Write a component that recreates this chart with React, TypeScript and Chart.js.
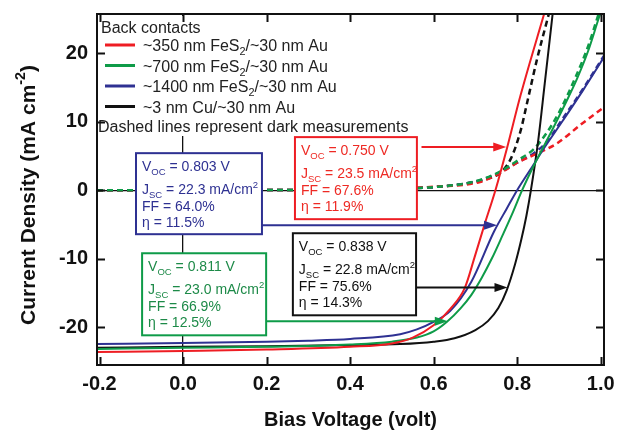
import React, { useEffect, useRef } from "react";
import { Chart, registerables } from "chart.js";

Chart.register(...registerables);

const FAMILY = 'Arial, "Liberation Sans", Helvetica, sans-serif';

// ---- axis ticks ----
const xTicks = [-0.2, 0.0, 0.2, 0.4, 0.6, 0.8, 1.0];
const yTicks = [-20, -10, 0, 10, 20];

// ---- illuminated J-V curves [V (volt), J (mA cm^-2)] ----
const red350Light = [
  [-0.206, -23.6], [0, -23.45], [0.2, -23.25], [0.4, -22.85], [0.5, -22.35], [0.55, -21.5],
  [0.6, -19.7], [0.64, -17.3], [0.675, -14.2], [0.698, -9.8], [0.722, -5.0], [0.748, 0],
  [0.776, 6.2], [0.808, 13.8], [0.866, 26.0],
];
const green700Light = [
  [-0.206, -23.15], [0, -23.0], [0.2, -22.85], [0.4, -22.5], [0.5, -22.1], [0.56, -21.5],
  [0.6, -20.6], [0.632, -19.2], [0.665, -17.2], [0.69, -15.3], [0.715, -12.8], [0.74, -9.9],
  [0.765, -6.6], [0.79, -3.2], [0.812, 0], [0.84, 3.6], [0.88, 8.3], [0.912, 12.2],
  [0.943, 16.2], [0.97, 20.3], [0.995, 25.0], [1.0, 25.9],
];
const blue1400Light = [
  [-0.206, -22.45], [0, -22.3], [0.2, -22.1], [0.3, -21.95], [0.4, -21.7], [0.52, -21.0],
  [0.56, -20.3], [0.6, -19.2], [0.64, -17.6], [0.69, -13.4], [0.745, -6.0], [0.775, -2.7],
  [0.8, 0], [0.838, 3.6], [0.862, 5.9], [0.91, 10.2], [0.958, 14.6], [1.01, 19.6],
];
const blackCuLight = [
  [-0.206, -23.0], [0, -22.85], [0.2, -22.75], [0.4, -22.6], [0.52, -22.45], [0.6, -22.1],
  [0.65, -21.6], [0.7, -20.4], [0.73, -19.1], [0.755, -17.2], [0.775, -14.6], [0.795, -10.8],
  [0.81, -7.2], [0.822, -3.8], [0.833, 0], [0.85, 7.0], [0.866, 15.5], [0.885, 25.7],
];

// ---- dark J-V curves ----
const red350Dark = [
  [-0.206, 0], [0.3, 0.05], [0.5, 0.2], [0.6, 0.5], [0.711, 1.2], [0.759, 2.5], [0.8, 4.0],
  [0.85, 5.4], [0.895, 6.8], [0.951, 9.5], [1.01, 12.2],
];
const green700Dark = [
  [-0.206, 0], [0.3, 0.05], [0.5, 0.2], [0.6, 0.45], [0.7, 1.3], [0.759, 2.7], [0.8, 4.3],
  [0.84, 6.0], [0.87, 8.3], [0.9, 11.3], [0.94, 16.5], [0.97, 21.0], [0.995, 25.7],
];
const blue1400Dark = [
  [-0.206, 0], [0.3, 0.05], [0.5, 0.2], [0.6, 0.45], [0.7, 1.25], [0.759, 2.6], [0.8, 4.0],
  [0.84, 5.4], [0.87, 7.0], [0.91, 10.5], [0.958, 14.8], [1.01, 19.8],
];
const blackCuDark = [
  [-0.206, 0], [0.3, 0.05], [0.5, 0.2], [0.6, 0.45], [0.68, 1.0], [0.73, 1.7], [0.759, 2.5],
  [0.785, 4.6], [0.808, 8.6], [0.827, 13.6], [0.848, 19.2], [0.872, 24.8], [0.878, 26.2],
];

// ---- device parameters (order: red, green, blue, black) ----
const legendNames = ["~350 nm FeS", "~700 nm FeS", "~1400 nm FeS", "~3 nm Cu/~30 nm Au"];
const vocValues = ["0.750", "0.811", "0.803", "0.838"];
const jscValues = ["23.5", "23.0", "22.3", "22.8"];
const ffValues = ["67.6", "66.9", "64.0", "75.6"];
const etaValues = ["11.9", "12.5", "11.5", "14.3"];

const LINE_COLORS = ["#ee1d23", "#0e9b48", "#2e3192", "#111111"];
const TEXT_COLORS = ["#ee2a24", "#1d8a48", "#2e3192", "#111111"];

type Seg = { t: string; s?: "sub" | "sup" };

function drawRich(ctx: CanvasRenderingContext2D, segs: Seg[], x: number, baseline: number, size: number, color: string, weight = "normal", measureOnly = false) {
  ctx.fillStyle = color;
  ctx.textBaseline = "alphabetic";
  ctx.textAlign = "left";
  let cx = x;
  for (const s of segs) {
    const fs = s.s ? size * 0.68 : size;
    ctx.font = `${weight} ${fs}px ${FAMILY}`;
    const dy = s.s === "sub" ? size * 0.28 : s.s === "sup" ? -size * 0.45 : 0;
    if (!measureOnly) ctx.fillText(s.t, cx, baseline + dy);
    cx += ctx.measureText(s.t).width;
  }
  return cx - x;
}

function legendSegs(i: number): Seg[] {
  if (i === 3) return [{ t: legendNames[3] }];
  return [{ t: legendNames[i] }, { t: "2", s: "sub" }, { t: "/~30 nm Au" }];
}

// annotation boxes in data units: [left V, top J, right V, bottom J], order red, green, blue, black
const boxRects = [
  [0.268, 7.74, 0.560, -4.23],
  [-0.098, -9.2, 0.199, -21.17],
  [-0.1126, 5.4, 0.189, -6.42],
  [0.263, -6.28, 0.558, -18.25],
];
// arrows in data units: [fromV, toV, J]
const arrows = [
  [0.571, 0.774, 6.3],
  [0.2, 0.634, -19.1],
  [0.189, 0.752, -5.1],
  [0.56, 0.777, -14.2],
];

const overlayPlugin = {
  id: "overlay",
  afterDatasetsDraw(chart: any) {
    const { ctx, chartArea: ca, scales } = chart;
    const xs = scales.x, ys = scales.y;
    ctx.save();
    // boxes
    for (let i = 0; i < 4; i++) {
      const [l, t, r, b] = boxRects[i];
      const x0 = xs.getPixelForValue(l), x1 = xs.getPixelForValue(r);
      const y0 = ys.getPixelForValue(t), y1 = ys.getPixelForValue(b);
      ctx.fillStyle = "#ffffff";
      ctx.fillRect(x0, y0, x1 - x0, y1 - y0);
      ctx.strokeStyle = LINE_COLORS[i];
      ctx.lineWidth = 2;
      ctx.strokeRect(x0, y0, x1 - x0, y1 - y0);
      const tx = x0 + 6;
      const col = TEXT_COLORS[i];
      drawRich(ctx, [{ t: "V" }, { t: "OC", s: "sub" }, { t: ` = ${vocValues[i]} V` }], tx, y0 + 18, 14, col);
      drawRich(ctx, [{ t: "J" }, { t: "SC", s: "sub" }, { t: ` = ${jscValues[i]} mA/cm` }, { t: "2", s: "sup" }], tx, y0 + 41, 14, col);
      drawRich(ctx, [{ t: `FF = ${ffValues[i]}%` }], tx, y0 + 58, 14, col);
      drawRich(ctx, [{ t: `\u03b7 = ${etaValues[i]}%` }], tx, y0 + 74, 14, col);
    }
    // arrows
    for (let i = 0; i < 4; i++) {
      const [fv, tv, j] = arrows[i];
      const ax0 = xs.getPixelForValue(fv), ax1 = xs.getPixelForValue(tv), ay = ys.getPixelForValue(j);
      ctx.strokeStyle = LINE_COLORS[i];
      ctx.fillStyle = LINE_COLORS[i];
      ctx.lineWidth = 2;
      ctx.beginPath();
      ctx.moveTo(ax0, ay);
      ctx.lineTo(ax1 - 10, ay);
      ctx.stroke();
      ctx.beginPath();
      ctx.moveTo(ax1, ay);
      ctx.lineTo(ax1 - 13, ay - 4.5);
      ctx.lineTo(ax1 - 13, ay + 4.5);
      ctx.closePath();
      ctx.fill();
    }
    // legend
    const L = ca.left, T = ca.top;
    ctx.fillStyle = "#ffffff";
    ctx.fillRect(L + 2, T + 2, 322, 120);
    drawRich(ctx, [{ t: "Back contacts" }], L + 4, T + 19, 16, "#222");
    const rowY = [31, 51.5, 72, 92.5];
    for (let i = 0; i < 4; i++) {
      const cy = T + rowY[i];
      ctx.strokeStyle = LINE_COLORS[i];
      ctx.lineWidth = 3;
      ctx.beginPath();
      ctx.moveTo(L + 8, cy);
      ctx.lineTo(L + 38, cy);
      ctx.stroke();
      drawRich(ctx, legendSegs(i), L + 46, cy + 6, 16, "#222");
    }
    drawRich(ctx, [{ t: "Dashed lines represent dark measurements" }], L + 1, T + 118, 16, "#222");
    ctx.restore();
  },
  afterDraw(chart: any) {
    const { ctx, chartArea: ca, scales } = chart;
    const xs = scales.x, ys = scales.y;
    ctx.save();
    ctx.strokeStyle = "#111";
    ctx.lineWidth = 2;
    ctx.strokeRect(ca.left, ca.top, ca.right - ca.left, ca.bottom - ca.top);
    const tl = 8;
    ctx.beginPath();
    for (const v of xTicks) {
      const px = Math.round(xs.getPixelForValue(v)) + 0.5;
      ctx.moveTo(px, ca.bottom); ctx.lineTo(px, ca.bottom - tl);
      ctx.moveTo(px, ca.top); ctx.lineTo(px, ca.top + tl);
    }
    for (const v of yTicks) {
      const py = Math.round(ys.getPixelForValue(v)) + 0.5;
      ctx.moveTo(ca.left, py); ctx.lineTo(ca.left + tl, py);
      ctx.moveTo(ca.right, py); ctx.lineTo(ca.right - tl, py);
    }
    ctx.stroke();
    // axis titles
    const xt: Seg[] = [{ t: "Bias Voltage (volt)" }];
    const xw = drawRich(ctx, xt, 0, 0, 20, "#111", "bold", true);
    drawRich(ctx, xt, (ca.left + ca.right) / 2 - xw / 2, 426, 20, "#111", "bold");
    const yt: Seg[] = [{ t: "Current Density (mA cm" }, { t: "-2", s: "sup" }, { t: ")" }];
    const yw = drawRich(ctx, yt, 0, 0, 21, "#111", "bold", true);
    ctx.translate(27, 195);
    ctx.rotate(-Math.PI / 2);
    drawRich(ctx, yt, -yw / 2, 7.5, 21, "#111", "bold");
    ctx.restore();
  },
};

function toPts(a: number[][]) {
  return a.map(([x, y]) => ({ x, y }));
}

export default function App() {
  const ref = useRef<HTMLCanvasElement>(null);
  useEffect(() => {
    if (!ref.current) return;
    const light = [red350Light, green700Light, blue1400Light, blackCuLight];
    const dark = [red350Dark, green700Dark, blue1400Dark, blackCuDark];
    const datasets: any[] = [];
    for (let i = 0; i < 4; i++) {
      datasets.push({
        data: toPts(light[i]),
        borderColor: LINE_COLORS[i],
        borderWidth: 2,
        pointRadius: 0,
        cubicInterpolationMode: "monotone",
        fill: false,
        order: 1,
      });
    }
    const darkOrder = [3, 2, 4, 5];
    for (let i = 0; i < 4; i++) {
      datasets.push({
        data: toPts(dark[i]),
        borderColor: LINE_COLORS[i],
        borderWidth: 2.5,
        borderDash: [6, 4],
        pointRadius: 0,
        cubicInterpolationMode: "monotone",
        fill: false,
        order: darkOrder[i],
      });
    }
    const tickFont = { family: FAMILY, size: 20, weight: "bold" as const };
    const chart = new Chart(ref.current, {
      type: "line",
      data: { datasets },
      plugins: [overlayPlugin],
      options: {
        animation: false,
        responsive: false,
        devicePixelRatio: 1,
        layout: { padding: { top: 14, right: 13, left: 0, bottom: 0 } },
        plugins: { legend: { display: false }, tooltip: { enabled: false }, title: { display: false } },
        scales: {
          x: {
            type: "linear",
            min: -0.206,
            max: 1.008,
            afterBuildTicks: (s: any) => { s.ticks = xTicks.map((v) => ({ value: v })); },
            afterFit: (s: any) => { s.height = 68; s.paddingLeft = 0; s.paddingRight = 0; },
            ticks: { font: tickFont, color: "#111", padding: 7, maxRotation: 0, autoSkip: false, callback: (v: any) => Number(v).toFixed(1) },
            grid: { drawTicks: false, lineWidth: 1.3, color: (c: any) => (c.tick && Math.abs(c.tick.value) < 1e-9 ? "#111" : "rgba(0,0,0,0)") },
            border: { display: false },
          },
          y: {
            type: "linear",
            min: -25.5,
            max: 25.7,
            afterBuildTicks: (s: any) => { s.ticks = yTicks.map((v) => ({ value: v })); },
            afterFit: (s: any) => { s.width = 97; s.paddingTop = 0; s.paddingBottom = 0; },
            ticks: { font: tickFont, color: "#111", padding: 9, autoSkip: false, callback: (v: any) => String(v) },
            grid: { drawTicks: false, lineWidth: 1.3, color: (c: any) => (c.tick && Math.abs(c.tick.value) < 1e-9 ? "#111" : "rgba(0,0,0,0)") },
            border: { display: false },
          },
        },
      },
    });
    return () => chart.destroy();
  }, []);
  return (
    <div style={{ position: "fixed", left: 0, top: 0, width: 617, height: 433, background: "#fff" }}>
      <canvas ref={ref} width={617} height={433} style={{ display: "block" }} />
    </div>
  );
}
